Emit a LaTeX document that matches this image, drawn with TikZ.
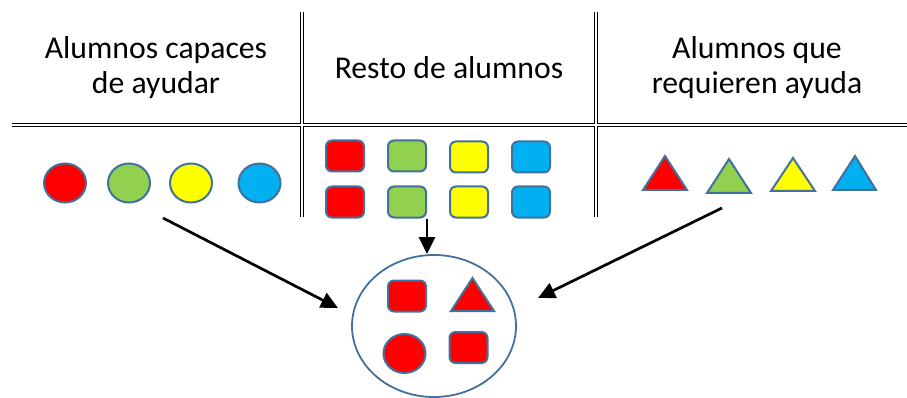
\documentclass[tikz,border=0pt]{standalone}
\usepackage{fontspec}
\setmainfont{Carlito}
\usetikzlibrary{arrows.meta,shapes.geometric}
\definecolor{outl}{HTML}{41719C}
\definecolor{cred}{HTML}{FF0000}
\definecolor{cgreen}{HTML}{92D050}
\definecolor{cyellow}{HTML}{FFFF00}
\definecolor{cblue}{HTML}{00B0F0}
\tikzset{
  hdr/.style={font=\fontsize{31.7}{35}\selectfont, align=center},
  disc/.style={ellipse, draw=outl, line width=2pt, minimum width=42pt, minimum height=39pt, inner sep=0pt},
  sq/.style={rectangle, rounded corners=6pt, draw=outl, line width=2pt, minimum width=38pt, minimum height=31pt, inner sep=0pt},
  tri/.style={draw=outl, line width=2pt, line join=miter},
  arr/.style={line width=2.7pt, -{Triangle[length=17pt,width=16pt]}},
  outer/.style={line width=4.2pt, black},
  inner/.style={line width=1.6pt, white},
}
\begin{document}
\begin{tikzpicture}[x=1pt,y=-1pt]
\useasboundingbox (0,0) rectangle (907,398);
% table lines
\draw[outer] (12,125) -- (907,125);
\draw[outer] (302,12) -- (302,217);
\draw[outer] (596,12) -- (596,217);
\draw[inner] (12,125) -- (907,125);
\draw[inner] (302,12) -- (302,217);
\draw[inner] (596,12) -- (596,217);
% headers
\node[hdr] (h1) at (156,68) {Alumnos capaces\\de ayudar};
\node[hdr] (h2) at (449,68) {Resto de alumnos};
\node[hdr] (h3) at (757,68) {Alumnos que\\requieren ayuda};
% circles
\node[disc, fill=cred] (c1) at (65,183) {};
\node[disc, fill=cgreen] (c2) at (129,183) {};
\node[disc, fill=cyellow] (c3) at (191,183) {};
\node[disc, fill=cblue] (c4) at (259.5,183) {};
% squares
\node[sq, fill=cred] (s1) at (345,156) {};
\node[sq, fill=cgreen] (s2) at (407,156) {};
\node[sq, fill=cyellow] (s3) at (469,157) {};
\node[sq, fill=cblue] (s4) at (531,157) {};
\node[sq, fill=cred] (s5) at (345,202) {};
\node[sq, fill=cgreen] (s6) at (407,202) {};
\node[sq, fill=cyellow] (s7) at (469,202) {};
\node[sq, fill=cblue] (s8) at (531,202) {};
% triangles
\draw[tri, fill=cred] (643,190) -- (665,156) -- (687,190) -- cycle;
\draw[tri, fill=cgreen] (707,193) -- (729,159) -- (751,193) -- cycle;
\draw[tri, fill=cyellow] (771,191) -- (793,158) -- (815,191) -- cycle;
\draw[tri, fill=cblue] (833,190) -- (855,156) -- (876,190) -- cycle;
% group ellipse
\node[ellipse, draw=outl, line width=1.8pt, minimum width=164pt, minimum height=142pt, inner sep=0pt] (g) at (434,326) {};
\node[sq, fill=cred] (gs1) at (407,296) {};
\draw[tri, fill=cred] (451,311) -- (472.5,278) -- (494,311) -- cycle;
\node[disc, fill=cred] (gc) at (404.5,353.5) {};
\node[sq, fill=cred] (gs2) at (468.5,347.5) {};
% arrows
\coordinate (a1s) at (163,218);
\coordinate (a1e) at (338,308);
\coordinate (a2s) at (427,219);
\coordinate (a3s) at (722,208);
\coordinate (a3e) at (538,298);
\draw[arr] (a1s) -- (a1e);
\draw[arr] (a2s) -- (g.north -| a2s);
\draw[arr] (a3s) -- (a3e);
\end{tikzpicture}
\end{document}
